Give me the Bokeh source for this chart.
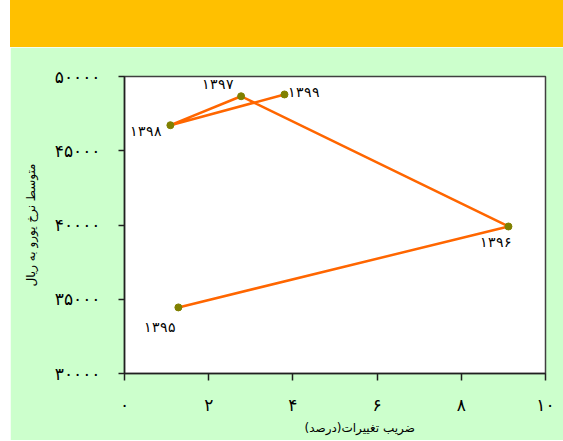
from bokeh.plotting import figure
from bokeh.models import ColumnDataSource, LabelSet, FixedTicker, Div, Title
from bokeh.layouts import column
from bokeh.embed import file_html
from bokeh.resources import INLINE

# ---- data ----
years = ["۱۳۹۵", "۱۳۹۶", "۱۳۹۷", "۱۳۹۸", "۱۳۹۹"]
cv_percent = [1.28, 9.12, 2.77, 1.09, 3.80]
euro_rate = [34450, 39900, 48670, 46720, 48790]

x_ticks = [0, 2, 4, 6, 8, 10]
x_tick_labels = ["۰", "۲", "۴", "۶", "۸", "۱۰"]
y_ticks = [30000, 35000, 40000, 45000, 50000]
y_tick_labels = ["۳۰۰۰۰", "۳۵۰۰۰", "۴۰۰۰۰", "۴۵۰۰۰", "۵۰۰۰۰"]

x_title = "ضریب تغییرات(درصد)"
y_title = "متوسط نرخ یورو به ریال"

# label offsets (styling)
lab_dx = [-18, -12, -23, -24, 20]
lab_dy = [-20, -16, 12, -6, 2]

FONT = "DejaVu Sans"
GREEN = "#CCFFCC"
ORANGE = "#FFC000"

src = ColumnDataSource(dict(x=cv_percent, y=euro_rate, t=years, dx=lab_dx, dy=lab_dy))

banner = Div(text="", width=553, height=47, margin=(0, 0, 0, 10),
             styles={"background-color": ORANGE})

p = figure(width=553, height=393, x_range=(0, 10), y_range=(30000, 50000),
           output_backend="svg", toolbar_location=None,
           min_border_left=114, min_border_right=18, min_border_top=29,
           min_border_bottom=67)
p.margin = (0, 0, 0, 10)
p.background_fill_color = "white"
p.border_fill_color = GREEN
p.outline_line_color = "#404040"
p.outline_line_width = 1.5
p.xgrid.visible = False
p.ygrid.visible = False

p.line("x", "y", source=src, line_color="#FF6600", line_width=2.5)
p.scatter("x", "y", source=src, size=7, fill_color="#808000", line_color="#808000")

labels = LabelSet(x="x", y="y", text="t", x_offset="dx", y_offset="dy", source=src,
                  text_align="center", text_baseline="middle", text_font=FONT,
                  text_font_size="14px", text_color="black")
p.add_layout(labels)

p.xaxis.ticker = FixedTicker(ticks=x_ticks)
p.xaxis.major_label_overrides = {t: l for t, l in zip(x_ticks, x_tick_labels)}
p.yaxis.ticker = FixedTicker(ticks=y_ticks)
p.yaxis.major_label_overrides = {t: l for t, l in zip(y_ticks, y_tick_labels)}

for ax in (p.xaxis, p.yaxis):
    ax.axis_line_color = "#202020"
    ax.axis_line_width = 1.5
    ax.major_tick_line_color = "#202020"
    ax.major_tick_line_width = 1.5
    ax.major_tick_in = 0
    ax.minor_tick_line_color = None
    ax.major_label_text_font = FONT
    ax.major_label_text_font_size = "17px"
    ax.major_label_text_color = "black"
    ax.axis_label_text_font = FONT
    ax.axis_label_text_font_size = "12px"
    ax.axis_label_text_font_style = "normal"
    ax.axis_label_text_color = "black"

p.xaxis.major_tick_out = 7
p.xaxis.major_label_standoff = 14
p.yaxis.major_tick_out = 6
p.yaxis.major_label_standoff = 18
p.yaxis.major_label_orientation = "horizontal"
p.yaxis.axis_label = y_title
p.yaxis.axis_label_standoff = 14

xt = Title(text=x_title, align="left", offset=180, text_font=FONT,
           text_font_size="12px", text_font_style="normal", text_color="black",
           standoff=2)
p.add_layout(xt, "below")

layout = column(banner, p, spacing=0)

open("out.html", "w").write(file_html(layout, INLINE))
